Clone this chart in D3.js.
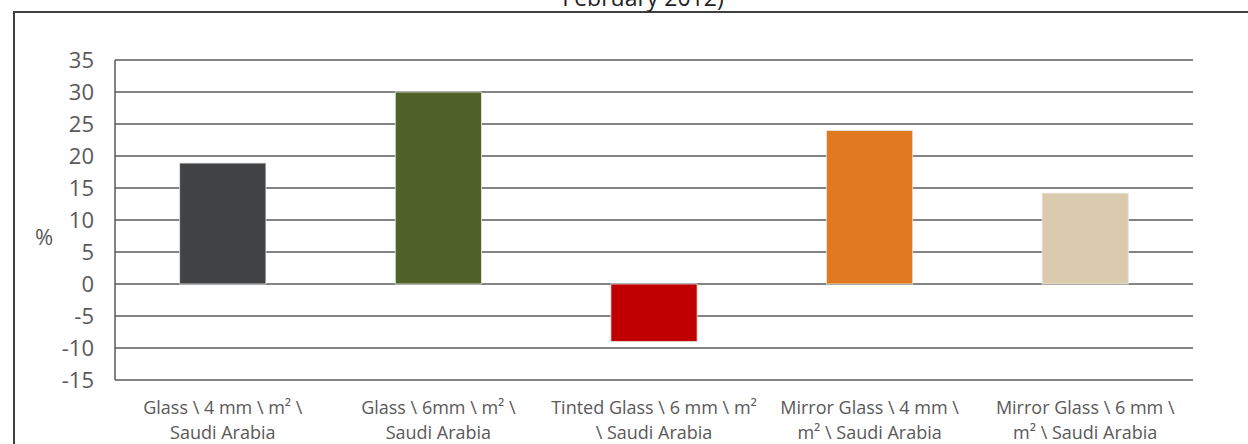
<html>
<head>
  <script src="https://d3js.org/d3.v7.min.js"></script>
  <style>
    body { margin: 0; padding: 0; background: #fff; font-family: "Open Sans", sans-serif; }
  </style>
</head>
<body>
  <div id="chart"></div>
  <script>
const categories = [
  ["Glass \\ 4 mm \\ m² \\", "Saudi Arabia"],
  ["Glass \\ 6mm \\ m² \\", "Saudi Arabia"],
  ["Tinted Glass \\ 6 mm \\ m²", "\\ Saudi Arabia"],
  ["Mirror Glass \\ 4 mm \\", "m² \\ Saudi Arabia"],
  ["Mirror Glass \\ 6 mm \\", "m² \\ Saudi Arabia"]
];
const values = [18.9, 30.0, -9.0, 24.0, 14.2];
const barColors = ["#404244", "#4f6228", "#c00000", "#e07a20", "#dbcbae"];
const yTicks = [35, 30, 25, 20, 15, 10, 5, 0, -5, -10, -15];

const width = 1248, height = 444;
const plotLeft = 115, plotRight = 1193, plotTop = 60, plotBottom = 380;

const svg = d3.select("#chart").append("svg")
  .attr("width", width)
  .attr("height", height);

// outer chart frame (only top and left visible in the crop)
svg.append("path")
  .attr("d", `M14,${height + 5} V12 H${width + 5}`)
  .attr("fill", "none")
  .attr("stroke", "#404040")
  .attr("stroke-width", 2);

// title, last line only visible
svg.append("text")
  .attr("x", 643)
  .attr("y", 6)
  .attr("text-anchor", "middle")
  .style("font-size", "23px")
  .style("fill", "#222")
  .text("February 2012)");

const x = d3.scaleBand()
  .domain(d3.range(categories.length))
  .range([plotLeft, plotRight])
  .paddingInner(0.6)
  .paddingOuter(0.3);

const y = d3.scaleLinear()
  .domain([-15, 35])
  .range([plotBottom, plotTop]);

// gridlines
svg.append("g")
  .selectAll("line")
  .data(yTicks)
  .enter()
  .append("line")
  .attr("x1", plotLeft)
  .attr("x2", plotRight)
  .attr("y1", d => y(d))
  .attr("y2", d => y(d))
  .attr("stroke", "#5a5a5a")
  .attr("stroke-width", 1.5);

// left axis line
svg.append("line")
  .attr("x1", plotLeft).attr("x2", plotLeft)
  .attr("y1", y(35)).attr("y2", y(-15))
  .attr("stroke", "#5a5a5a")
  .attr("stroke-width", 1.5);

// tick labels
svg.append("g")
  .selectAll("text")
  .data(yTicks)
  .enter()
  .append("text")
  .attr("x", 94)
  .attr("y", d => y(d))
  .attr("dy", "0.35em")
  .attr("text-anchor", "end")
  .style("font-size", "22px")
  .style("fill", "#595959")
  .text(d => d);

svg.append("text")
  .attr("x", 44)
  .attr("y", 237)
  .attr("text-anchor", "middle")
  .attr("dy", "0.35em")
  .style("font-size", "22px")
  .style("fill", "#595959")
  .text("%");

// bars
svg.append("g")
  .selectAll("rect")
  .data(values)
  .enter()
  .append("rect")
  .attr("x", (d, i) => x(i))
  .attr("width", x.bandwidth())
  .attr("y", d => y(Math.max(0, d)))
  .attr("height", d => Math.abs(y(d) - y(0)))
  .attr("fill", (d, i) => barColors[i])
  .attr("stroke", "#e8e8e8")
  .attr("stroke-width", 0.8);

// category labels
const labels = svg.append("g")
  .selectAll("text")
  .data(categories)
  .enter()
  .append("text")
  .attr("text-anchor", "middle")
  .style("font-size", "18px")
  .style("fill", "#595959");

labels.each(function (d, i) {
  const cx = x(i) + x.bandwidth() / 2;
  d3.select(this).selectAll("tspan")
    .data(d)
    .enter()
    .append("tspan")
    .attr("x", cx)
    .attr("y", (t, j) => 414 + j * 25)
    .text(t => t);
});
  </script>
</body>
</html>
